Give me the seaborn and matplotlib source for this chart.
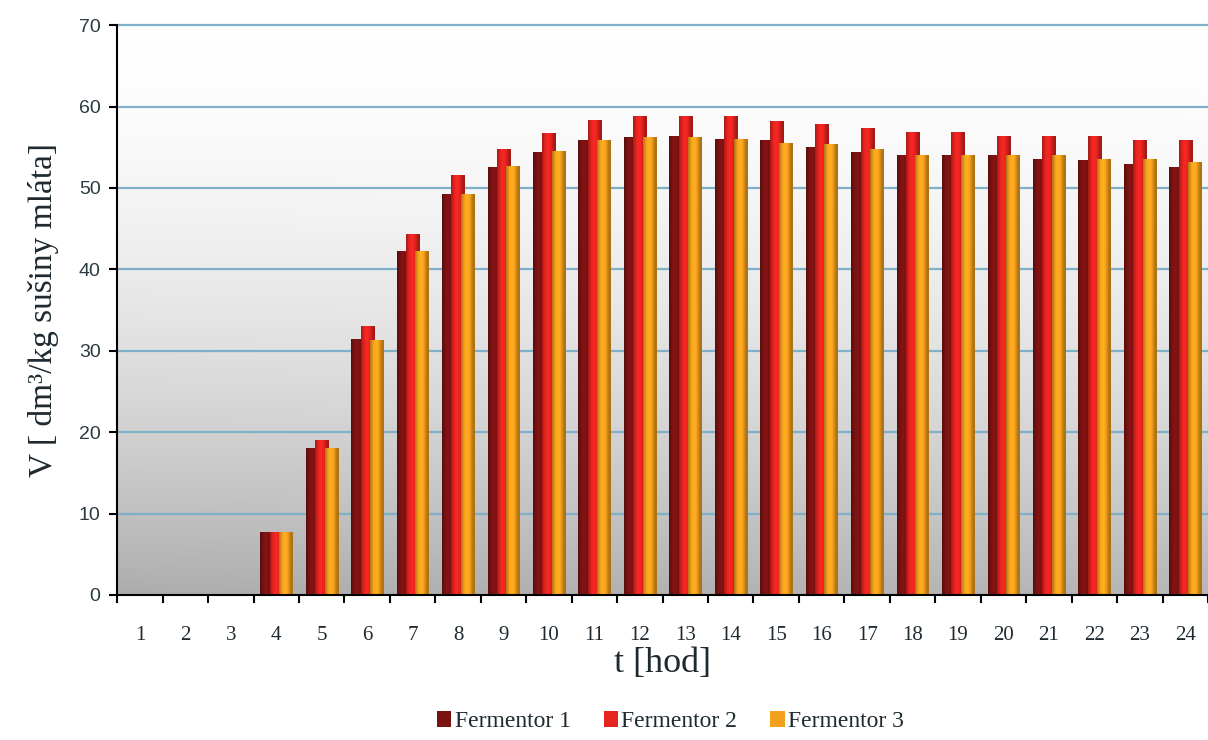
import numpy as np
import pandas as pd
import matplotlib
matplotlib.use('Agg')
import matplotlib.pyplot as plt
import matplotlib.colors as mcolors
from matplotlib.patches import Patch
from matplotlib.ticker import FixedLocator, NullFormatter
import seaborn as sns

# ── Dados ─────────────────────────────────────────────────────────────────────
hours = [str(h) for h in range(1, 25)]
fermentor_1 = [0, 0, 0, 7.7, 18.1, 31.4, 42.2, 49.2, 52.6, 54.4, 55.9, 56.3,
               56.4, 56.0, 55.9, 55.0, 54.4, 54.0, 54.0, 54.0, 53.5, 53.4, 53.0, 52.6]
fermentor_2 = [0, 0, 0, 7.7, 19.0, 33.0, 44.4, 51.6, 54.8, 56.8, 58.3, 58.8,
               58.8, 58.8, 58.2, 57.8, 57.4, 56.9, 56.9, 56.4, 56.4, 56.4, 55.9, 55.9]
fermentor_3 = [0, 0, 0, 7.7, 18.0, 31.3, 42.2, 49.2, 52.7, 54.5, 55.9, 56.3,
               56.3, 56.0, 55.5, 55.4, 54.8, 54.1, 54.1, 54.0, 54.0, 53.6, 53.5, 53.2]
series_names = ['Fermentor 1', 'Fermentor 2', 'Fermentor 3']
y_ticks = [0, 10, 20, 30, 40, 50, 60, 70]

colors = ['#7a1212', '#e62420', '#f3a01c']

df = pd.DataFrame({
    't': hours * 3,
    'V': fermentor_1 + fermentor_2 + fermentor_3,
    'serie': sum([[n] * len(hours) for n in series_names], []),
})

sns.set_style('white')
serif = ['Liberation Serif', 'DejaVu Serif']
narrow = ['Liberation Sans Narrow', 'Liberation Sans', 'DejaVu Sans']

fig = plt.figure(figsize=(12.08, 7.40), dpi=100)
ax = fig.add_axes([0.097, 0.196, 0.903, 0.770])

sns.barplot(data=df, x='t', y='V', hue='serie', palette=colors, width=0.62,
            ax=ax, legend=False, zorder=3, linewidth=0)

# barras ligeiramente sobrepostas (efeito cilindro 3D)
for patch in ax.patches:
    w = patch.get_width()
    patch.set_x(patch.get_x() - 0.2 * w)
    patch.set_width(w * 1.4)

ax.set_xlim(-0.5, 23.5)
ax.set_ylim(0, 70)

# fundo com gradiente (branco em cima, cinza em baixo)
yy = np.linspace(1, 0, 200)[:, None]
xx = np.linspace(0, 1, 200)[None, :]
shade = np.clip((1 - yy) ** 1.7 * (1 - 0.12 * xx), 0, 1)
lo = np.array(mcolors.to_rgb('#adadad'))
hi = np.array([1.0, 1.0, 1.0])
bg = hi[None, None, :] * (1 - shade[..., None]) + lo[None, None, :] * shade[..., None]
ax.imshow(bg, extent=[0, 1, 0, 1], transform=ax.transAxes, aspect='auto', zorder=0)

# sombreamento cilíndrico das barras
for patch, base in zip(ax.patches, np.repeat(colors, len(hours))):
    h = patch.get_height()
    if h <= 0:
        continue
    x0, w = patch.get_x(), patch.get_width()
    rgb = np.array(mcolors.to_rgb(base))
    t = np.linspace(0, 1, 40)
    k = 0.72 + 0.36 * np.sin(np.pi * np.clip(t * 1.15, 0, 1))
    grad = np.clip(rgb[None, :] * k[:, None], 0, 1)[None, :, :]
    im = ax.imshow(grad, extent=[x0, x0 + w, 0, h], aspect='auto', zorder=3)
    im.set_clip_path(patch)

ax.set_xlim(-0.5, 23.5)
ax.set_ylim(0, 70)

# grelha
for v in y_ticks[1:]:
    ax.axhline(v, color='#7fb0c8', lw=1.6, zorder=1, clip_on=False)

sns.despine(ax=ax, top=True, right=True)
for side in ['left', 'bottom']:
    ax.spines[side].set_color('black')
    ax.spines[side].set_linewidth(1.5)
    ax.spines[side].set_zorder(5)

ax.set_yticks(y_ticks)
ax.set_yticklabels([str(v) for v in y_ticks], family=narrow, fontsize=14, color='#2a3a40')
ax.tick_params(axis='y', direction='out', length=6, width=1.5, color='black', pad=6, left=True)

ax.xaxis.set_major_locator(FixedLocator(np.arange(-0.5, 24.0, 1.0)))
ax.xaxis.set_major_formatter(NullFormatter())
ax.set_xticks(np.arange(0, 24), labels=hours, minor=True)
for lbl in ax.get_xticklabels(minor=True):
    lbl.set_family(serif)
    lbl.set_fontsize(15)
    lbl.set_color('#1e2a30')
ax.tick_params(axis='x', which='major', direction='out', length=6, width=1.5, color='black', bottom=True)
ax.tick_params(axis='x', which='minor', length=0, pad=22, bottom=True)

ax.set_xlabel('t [hod]', family=serif, fontsize=26, labelpad=2, color='#1e2a30')
ax.set_ylabel('V [ dm³/kg sušiny mláta]', family=serif, fontsize=24, labelpad=14, color='#1e2a30')

handles = [Patch(facecolor=c, edgecolor='none') for c in colors]
fig.legend(handles, series_names, loc='center', bbox_to_anchor=(0.555, 0.025), ncol=3,
           frameon=False, prop={'family': serif, 'size': 17},
           handlelength=0.6, handleheight=0.7, handletextpad=0.15, columnspacing=1.4,
           labelcolor='#1e2a30')

fig.savefig('out.png', dpi=100)
plt.close(fig)
